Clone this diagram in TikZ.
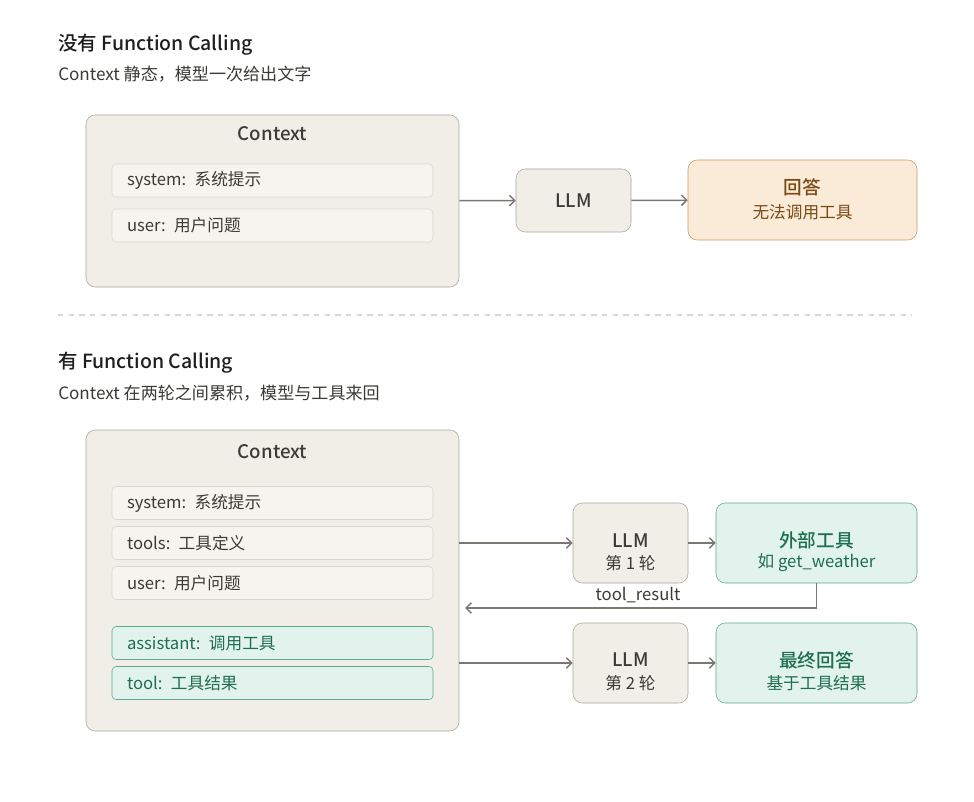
\documentclass[tikz,border=0pt]{standalone}
\usepackage{fontspec}
\setmainfont{Noto Sans CJK SC}[BoldFont={Noto Sans CJK SC Medium}]
\usepackage{xcolor}
\usetikzlibrary{arrows.meta}

\definecolor{ink}{HTML}{3B3A36}
\definecolor{ctxfill}{HTML}{F1EEE7}
\definecolor{ctxline}{HTML}{A9A59D}
\definecolor{itemfill}{HTML}{F5F4EE}
\definecolor{itemline}{HTML}{D9D6CD}
\definecolor{greenfill}{HTML}{E1F3EC}
\definecolor{greenline}{HTML}{5FA98C}
\definecolor{greentext}{HTML}{1F6E51}
\definecolor{orangefill}{HTML}{FAEBD8}
\definecolor{orangeline}{HTML}{C89A5E}
\definecolor{orangetext}{HTML}{7A4A12}
\definecolor{arrowgray}{HTML}{7A7872}

\tikzset{
  ctxbox/.style={rounded corners=7pt,draw=ctxline,fill=ctxfill,minimum width=279.75pt,inner sep=0pt},
  item/.style={rounded corners=3pt,draw=itemline,fill=itemfill,text width=218.25pt,inner xsep=11.25pt,inner ysep=0pt,minimum height=24.75pt,align=left,text=ink,font=\fontsize{12.5}{14}\selectfont},
  greenitem/.style={item,draw=greenline,fill=greenfill,text=greentext},
  llm/.style={rounded corners=7pt,draw=ctxline,fill=ctxfill,minimum width=86.25pt,inner sep=0pt},
  result/.style={rounded corners=7pt,minimum width=150.75pt,minimum height=60pt,inner sep=0pt},
  head/.style={font=\bfseries\fontsize{14}{16}\selectfont,inner sep=0pt},
  small/.style={font=\fontsize{12.5}{14}\selectfont,inner sep=0pt},
  flow/.style={draw=arrowgray,line width=1.1pt,-{Straight Barb[length=4pt,width=8pt]}},
}

\begin{document}
\begin{tikzpicture}[x=0.75pt,y=-0.75pt]
    \useasboundingbox[fill=white] (0,0) rectangle (974,802);

    % --- ohne function calling ---
    \node[head,anchor=west,text=black!88,font=\bfseries\fontsize{14.6}{17}\selectfont] (title1) at (58,45) {没有 Function Calling};
    \node[small,anchor=west,text=ink,font=\fontsize{12.8}{14}\selectfont] (sub1) at (58,74) {Context 静态，模型一次给出文字};

    \node[ctxbox,minimum height=129pt] (ctx1) at (272.5,201) {};
    \node[head,text=ink] (ctx1title) at (272.5,134) {Context};
    \node[item] (sys1) at (272.5,180.5) {system: 系统提示};
    \node[item] (user1) at (272.5,225.5) {user: 用户问题};

    \node[llm,minimum height=47.25pt,head,text=ink] (llm0) at (573.5,200.5) {LLM};
    \node[result,minimum width=171.75pt,draw=orangeline,fill=orangefill] (answer) at (802.5,200) {};
    \node[head,text=orangetext] (answerhead) at (802.5,187) {回答};
    \node[small,text=orangetext] (answersub) at (802.5,212) {无法调用工具};

    \draw[flow] (ctx1) -- (llm0);
    \draw[flow] (llm0) -- (answer);

    \draw[draw=itemline,line width=0.8pt,dash pattern=on 4pt off 4pt] (58,315) -- (912,315);

    % --- mit function calling ---
    \node[head,anchor=west,text=black!88,font=\bfseries\fontsize{14.6}{17}\selectfont] (title2) at (58,363) {有 Function Calling};
    \node[small,anchor=west,text=ink,font=\fontsize{12.8}{14}\selectfont] (sub2) at (58,393) {Context 在两轮之间累积，模型与工具来回};

    \node[ctxbox,minimum height=225.75pt] (ctx2) at (272.5,580.5) {};
    \node[head,text=ink] (ctx2title) at (272.5,452) {Context};
    \node[item] (sys2) at (272.5,503) {system: 系统提示};
    \node[item] (tools2) at (272.5,543) {tools: 工具定义};
    \node[item] (user2) at (272.5,583) {user: 用户问题};
    \node[greenitem] (asst2) at (272.5,643) {assistant: 调用工具};
    \node[greenitem] (tool2) at (272.5,683) {tool: 工具结果};

    \node[llm,minimum height=60pt] (llm1) at (630.5,543) {};
    \node[head,text=ink] (llm1head) at (630.5,541) {LLM};
    \node[small,text=ink] (llm1sub) at (630.5,563) {第 1 轮};
    \node[result,draw=greenline,fill=greenfill] (ext) at (816.5,543) {};
    \node[head,text=greentext] (exthead) at (816.5,540) {外部工具};
    \node[small,text=greentext] (extsub) at (816.5,563) {如 get\_weather};

    \node[llm,minimum height=60pt] (llm2) at (630.5,663) {};
    \node[head,text=ink] (llm2head) at (630.5,660) {LLM};
    \node[small,text=ink] (llm2sub) at (630.5,683) {第 2 轮};
    \node[result,draw=greenline,fill=greenfill] (final) at (816.5,663) {};
    \node[head,text=greentext] (finalhead) at (816.5,660) {最终回答};
    \node[small,text=greentext] (finalsub) at (816.5,683) {基于工具结果};

    \coordinate (back) at (465,608);
    \draw[flow] (ctx2.east |- llm1) -- (llm1);
    \draw[flow] (llm1) -- (ext);
    \draw[flow] (ext.south) |- (back);
    \node[small,text=ink] (toolres) at (638,595) {tool\_result};
    \draw[flow] (ctx2.east |- llm2) -- (llm2);
    \draw[flow] (llm2) -- (final);
\end{tikzpicture}
\end{document}
